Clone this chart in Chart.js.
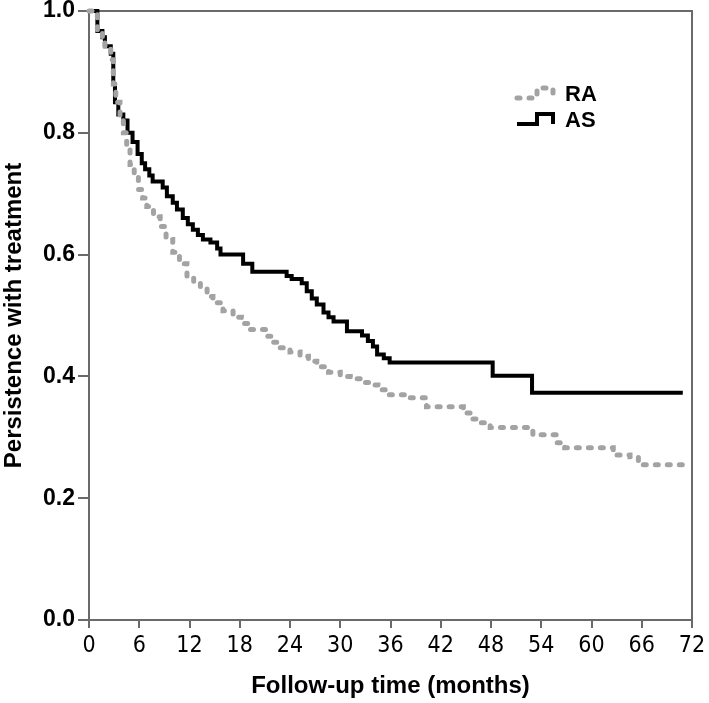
<!DOCTYPE html>
<html><head><meta charset="utf-8">
<script src="https://cdn.jsdelivr.net/npm/chart.js@4"></script>
<style>html,body{margin:0;padding:0;background:#fff}</style>
</head><body>
<canvas id="c" width="709" height="703"></canvas>
<script>
const seriesNames = ['RA', 'AS'];
const xTickValues = [0, 6, 12, 18, 24, 30, 36, 42, 48, 54, 60, 66, 72];
const yTickValues = [0, 0.2, 0.4, 0.6, 0.8, 1.0];
const xTitle = 'Follow-up time (months)';
const yTitle = 'Persistence with treatment';

const raMonths = [0, 1.0, 1.6, 1.9, 2.6, 2.9, 3.2, 3.7, 4.1, 4.5, 4.9, 5.4, 5.9, 6.4, 6.9, 7.7, 8.5, 9.2, 10.0, 10.8, 11.7, 12.5, 13.3, 14.1, 14.8, 16.0, 17.2, 18.2, 19.2, 21.2, 22.0, 22.8, 24.0, 25.2, 26.2, 27.2, 28.6, 30.0, 31.2, 32.4, 33.5, 34.5, 35.5, 38.3, 40.3, 43.5, 44.7, 45.7, 46.7, 47.9, 53.0, 55.9, 56.8, 62.6, 64.6, 65.6, 71.6];
const raValues = [1.0, 0.967, 0.957, 0.942, 0.92, 0.88, 0.85, 0.827, 0.80, 0.773, 0.748, 0.727, 0.707, 0.693, 0.679, 0.662, 0.646, 0.625, 0.604, 0.585, 0.564, 0.553, 0.546, 0.531, 0.521, 0.508, 0.497, 0.487, 0.477, 0.466, 0.456, 0.447, 0.44, 0.433, 0.425, 0.416, 0.407, 0.400, 0.396, 0.39, 0.386, 0.378, 0.37, 0.365, 0.35, 0.35, 0.34, 0.33, 0.324, 0.316, 0.304, 0.291, 0.283, 0.271, 0.268, 0.255, 0.255];

const asMonths = [0, 1.0, 1.6, 1.9, 2.6, 2.9, 3.1, 3.5, 4.1, 4.6, 5.2, 5.8, 6.3, 6.7, 7.2, 7.6, 8.8, 9.3, 10.0, 10.5, 11.2, 11.8, 12.4, 13.0, 13.6, 14.5, 15.3, 15.7, 18.4, 19.5, 23.6, 24.2, 25.4, 26.0, 26.6, 27.2, 28.0, 28.6, 29.2, 30.8, 32.6, 33.3, 33.9, 34.4, 35.2, 35.9, 48.2, 52.9, 70.9];
const asValues = [1.0, 0.967, 0.957, 0.942, 0.93, 0.88, 0.85, 0.83, 0.82, 0.80, 0.785, 0.765, 0.75, 0.74, 0.73, 0.72, 0.71, 0.696, 0.685, 0.674, 0.66, 0.65, 0.641, 0.632, 0.625, 0.62, 0.61, 0.60, 0.585, 0.572, 0.565, 0.56, 0.553, 0.54, 0.528, 0.518, 0.505, 0.497, 0.49, 0.474, 0.467, 0.458, 0.449, 0.436, 0.43, 0.423, 0.401, 0.373, 0.373];

const toPts = (xs, ys) => xs.map((x, i) => ({x: x, y: ys[i]}));
const FONT = '"Liberation Sans", Arial, sans-serif';
const NARROW = '"Liberation Sans Narrow", "Arial Narrow", "DejaVu Sans Condensed", sans-serif';
const AXIS = '#6a6a6a';

const framePlugin = {
  id: 'frame',
  beforeDatasetsDraw(chart) {
    const {ctx, chartArea: a} = chart;
    ctx.save();
    ctx.strokeStyle = AXIS; ctx.lineWidth = 2;
    ctx.beginPath();
    ctx.moveTo(a.left, a.top); ctx.lineTo(a.right, a.top); ctx.lineTo(a.right, a.bottom);
    ctx.stroke();
    ctx.restore();
  }
};

const legendPlugin = {
  id: 'kmLegend',
  afterDraw(chart) {
    const ctx = chart.ctx;
    const x0 = 517, x1 = 537, x2 = 553, tx = 565;
    const rows = [{y: 95}, {y: 121}];
    chart.data.datasets.forEach((ds, i) => {
      const yb = rows[i].y + 3, yt = rows[i].y - 7;
      ctx.save();
      ctx.strokeStyle = ds.borderColor; ctx.lineWidth = ds.borderWidth;
      ctx.setLineDash(ds.borderDash || []);
      ctx.lineCap = ds.borderCapStyle || 'butt';
      ctx.lineJoin = 'miter';
      ctx.beginPath();
      ctx.moveTo(x0, yb); ctx.lineTo(x1, yb); ctx.lineTo(x1, yt); ctx.lineTo(x2, yt); ctx.lineTo(x2, yb);
      ctx.stroke();
      ctx.restore();
      ctx.save();
      ctx.fillStyle = '#000';
      ctx.font = 'bold 22px ' + FONT;
      ctx.textBaseline = 'middle';
      ctx.fillText(ds.label, tx, rows[i].y);
      ctx.restore();
    });
  }
};

new Chart(document.getElementById('c'), {
  type: 'line',
  data: {
    datasets: [
      {label: seriesNames[0], data: toPts(raMonths, raValues), stepped: true,
       borderColor: '#a3a3a3', borderWidth: 5, borderDash: [3, 9], borderCapStyle: 'round',
       pointRadius: 0, fill: false, clip: 6},
      {label: seriesNames[1], data: toPts(asMonths, asValues), stepped: true,
       borderColor: '#000000', borderWidth: 4, borderCapStyle: 'butt', borderJoinStyle: 'miter',
       pointRadius: 0, fill: false, clip: 6}
    ]
  },
  options: {
    responsive: false, animation: false, devicePixelRatio: 1,
    layout: {padding: {top: 11, right: 17, left: 0, bottom: 0}},
    plugins: {legend: {display: false}, tooltip: {enabled: false}},
    scales: {
      x: {
        type: 'linear', min: 0, max: 72,
        afterBuildTicks: s => { s.ticks = xTickValues.map(v => ({value: v})); },
        afterFit: s => { s.height = 83; s.paddingLeft = 0; s.paddingRight = 0; },
        ticks: {color: '#000', font: {family: NARROW, size: 23}, padding: 4, maxRotation: 0, autoSkip: false},
        grid: {drawOnChartArea: false, drawTicks: true, tickLength: 8, color: AXIS, lineWidth: 2},
        border: {display: true, color: AXIS, width: 2},
        title: {display: true, text: xTitle, color: '#000', font: {family: FONT, size: 24, weight: 'bold'}, padding: {top: 2, bottom: 2}}
      },
      y: {
        type: 'linear', min: 0, max: 1,
        afterBuildTicks: s => { s.ticks = yTickValues.map(v => ({value: v})); },
        afterFit: s => { s.width = 89; s.paddingTop = 0; s.paddingBottom = 0; },
        ticks: {color: '#000', font: {family: FONT, size: 23, weight: 'bold'}, padding: 3, callback: v => Number(v).toFixed(1)},
        grid: {drawOnChartArea: false, drawTicks: true, tickLength: 11, color: AXIS, lineWidth: 2},
        border: {display: true, color: AXIS, width: 2},
        title: {display: true, text: yTitle, color: '#000', font: {family: FONT, size: 24, weight: 'bold'}, padding: {top: 0, bottom: 2}}
      }
    }
  },
  plugins: [framePlugin, legendPlugin]
});
</script>
</body></html>
